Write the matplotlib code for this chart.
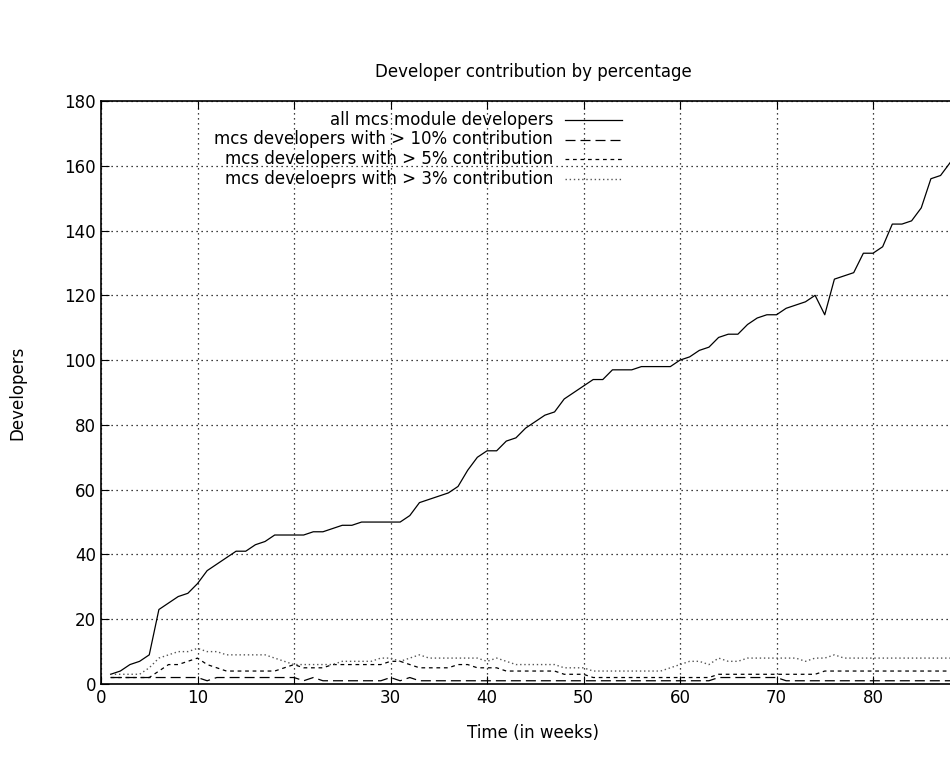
import matplotlib
matplotlib.use("Agg")
import matplotlib.pyplot as plt
from matplotlib.lines import Line2D

plt.rcParams['font.family'] = ['DejaVu Sans']

weeks = list(range(1, 89))
all_devs = [3, 4, 6, 7, 9, 23, 25, 27, 28, 31, 35, 37, 39, 41, 41, 43, 44, 46, 46, 46,
            46, 47, 47, 48, 49, 49, 50, 50, 50, 50, 50, 52, 56, 57, 58, 59, 61, 66, 70, 72,
            72, 75, 76, 79, 81, 83, 84, 88, 90, 92, 94, 94, 97, 97, 97, 98, 98, 98, 98, 100,
            101, 103, 104, 107, 108, 108, 111, 113, 114, 114, 116, 117, 118, 120, 114, 125, 126, 127, 133, 133,
            135, 142, 142, 143, 147, 156, 157, 161]
gt10 = [2, 2, 2, 2, 2, 2, 2, 2, 2, 2, 1, 2, 2, 2, 2, 2, 2, 2, 2, 2,
        1, 2, 1, 1, 1, 1, 1, 1, 1, 2, 1, 2, 1, 1, 1, 1, 1, 1, 1, 1,
        1, 1, 1, 1, 1, 1, 1, 1, 1, 1, 1, 1, 1, 1, 1, 1, 1, 1, 1, 1,
        1, 1, 1, 2, 2, 2, 2, 2, 2, 2, 1, 1, 1, 1, 1, 1, 1, 1, 1, 1,
        1, 1, 1, 1, 1, 1, 1, 1]
gt5 = [2, 2, 2, 2, 2, 4, 6, 6, 7, 8, 6, 5, 4, 4, 4, 4, 4, 4, 5, 6,
       5, 5, 5, 6, 6, 6, 6, 6, 6, 7, 7, 6, 5, 5, 5, 5, 6, 6, 5, 5,
       5, 4, 4, 4, 4, 4, 4, 3, 3, 3, 2, 2, 2, 2, 2, 2, 2, 2, 2, 2,
       2, 2, 2, 3, 3, 3, 3, 3, 3, 3, 3, 3, 3, 3, 4, 4, 4, 4, 4, 4,
       4, 4, 4, 4, 4, 4, 4, 4]
gt3 = [3, 3, 3, 3, 5, 8, 9, 10, 10, 11, 10, 10, 9, 9, 9, 9, 9, 8, 7, 6,
       6, 6, 6, 6, 7, 7, 7, 7, 8, 8, 7, 8, 9, 8, 8, 8, 8, 8, 8, 7,
       8, 7, 6, 6, 6, 6, 6, 5, 5, 5, 4, 4, 4, 4, 4, 4, 4, 4, 5, 6,
       7, 7, 6, 8, 7, 7, 8, 8, 8, 8, 8, 8, 7, 8, 8, 9, 8, 8, 8, 8,
       8, 8, 8, 8, 8, 8, 8, 8]

series = [
    ("all mcs module developers", all_devs, dict(color='black', linestyle='-', linewidth=0.9)),
    ("mcs developers with > 10% contribution", gt10, dict(color='black', linestyle=(0, (8, 4)), linewidth=0.9)),
    ("mcs developers with > 5% contribution", gt5, dict(color='black', linestyle=(0, (3, 3)), linewidth=0.9)),
    ("mcs develoeprs with > 3% contribution", gt3, dict(color='#555555', linestyle=(0, (1, 2)), linewidth=1.0)),
]

fig = plt.figure(figsize=(9.5, 7.57), dpi=100)
W, H = 950, 757
# axes extend past the right edge, as in the cropped original
ax = fig.add_axes([101 / W, 1 - 684 / H, 965 / W, 583 / H])

for label, vals, style in series:
    ax.plot(weeks, vals, **style)

ax.set_xlim(0, 100)
ax.set_ylim(0, 180)
ax.set_xticks(range(0, 81, 10))
ax.set_yticks(range(0, 181, 20))
ax.tick_params(direction='in', top=True, right=True, labelsize=12, length=6)
ax.grid(True, color='black', linestyle=(0, (1, 3)), linewidth=0.9)
for sp in ax.spines.values():
    sp.set_linewidth(1.2)

ax.set_ylabel("Developers", fontsize=12)
ax.yaxis.set_label_coords(-75 / 965, 0.5)
fig.text(533 / W, 1 - 733 / H, "Time (in weeks)", ha='center', va='center', fontsize=12)
fig.text(533 / W, 1 - 72 / H, "Developer contribution by percentage",
         ha='center', va='center', fontsize=12)

# gnuplot-style key: right-aligned text, sample to the right
for i, (label, vals, style) in enumerate(series):
    ypx = 120 + i * 19.5
    yf = 1 - ypx / H
    fig.text(553 / W, yf, label, ha='right', va='center', fontsize=12)
    fig.add_artist(Line2D([565 / W, 622 / W], [yf, yf], transform=fig.transFigure, **style))

fig.savefig("out.png", dpi=100, facecolor='white')
